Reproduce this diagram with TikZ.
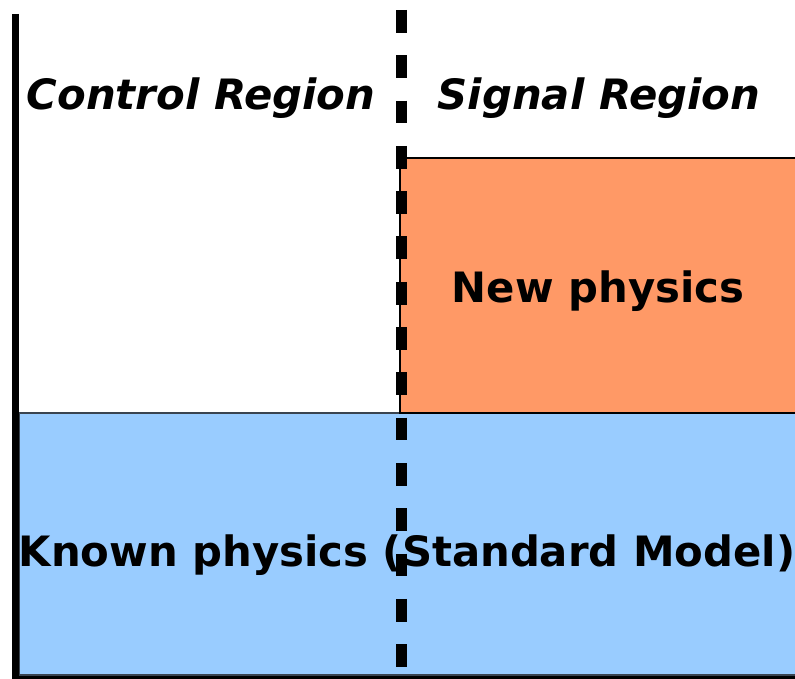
\documentclass[tikz,border=0pt]{standalone}
\usepackage{fontspec}
\setmainfont{DejaVu Sans}
\definecolor{nporange}{HTML}{FF9966}
\definecolor{smblue}{HTML}{99CCFF}
\definecolor{smedge}{HTML}{3A4450}
\tikzset{
  lbl/.style={font=\fontsize{41.8}{48}\selectfont\bfseries, anchor=base, inner sep=0pt},
  ilbl/.style={lbl, font=\fontsize{41.8}{48}\selectfont\bfseries\itshape},
  regionbox/.style={line width=1.2pt},
  axisline/.style={line width=7pt},
  divider/.style={line width=11pt, dash pattern=on 22.7pt off 22.6pt}
}
\begin{document}
\begin{tikzpicture}[x=1pt,y=-1pt]
\useasboundingbox (0,0) rectangle (795,679);
\clip (0,0) rectangle (795,679);
\fill[white] (0,0) rectangle (795,679);
% regions
\draw[regionbox, fill=smblue, draw=smedge] (19,413) rectangle (800,675);
\draw[regionbox, fill=nporange, draw=black] (400,158) rectangle (800,413);
% axes
\coordinate (top) at (15.5,14);
\coordinate (origin) at (15.5,679.5);
\coordinate (right) at (800,679.5);
\draw[axisline] (top) -- (origin) -- (right);
% divider
\coordinate (dtop) at (401,10);
\coordinate (dbot) at (401,667);
\draw[divider] (dtop) -- (dbot);
% labels
\node[ilbl] (cr) at (201,110) {Control Region};
\node[ilbl] (sr) at (599,110) {Signal Region};
\node[lbl] (np) at (598,302) {New physics};
\node[lbl] (kp) at (407,566) {Known physics (Standard Model)};
\end{tikzpicture}
\end{document}
